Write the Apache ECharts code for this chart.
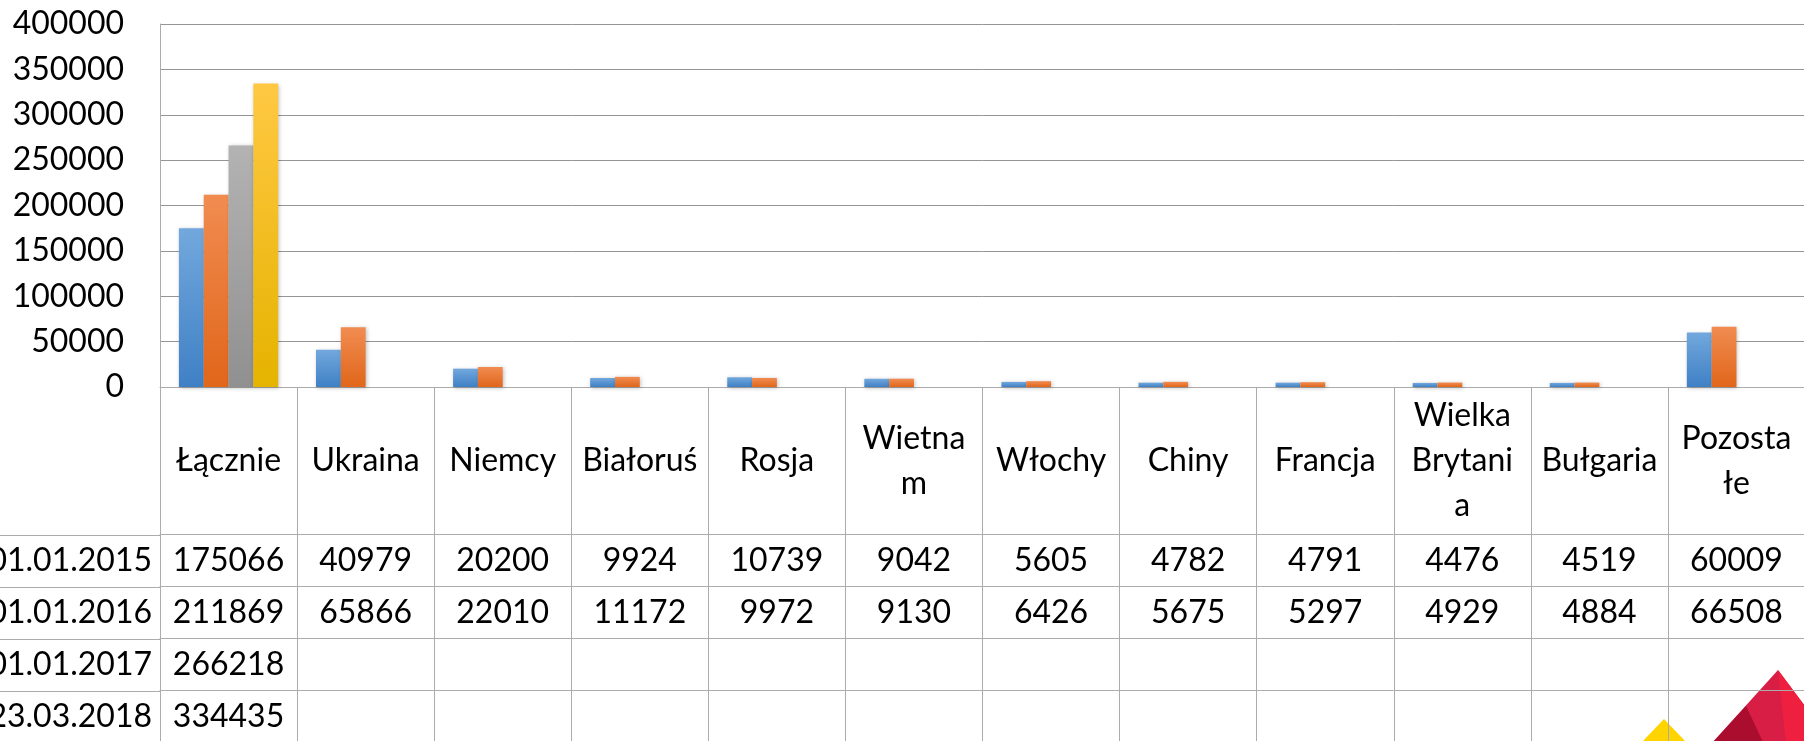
<!DOCTYPE html>
<html>
<head>
<meta charset="utf-8">
<script src="https://cdn.jsdelivr.net/npm/echarts@6/dist/echarts.min.js"></script>
<style>
html,body{margin:0;padding:0;background:#fff;}
#chart{width:1804px;height:741px;}
</style>
</head>
<body>
<div id="chart"></div>
<script>
// ---- data ----
const categories = ["Łącznie","Ukraina","Niemcy","Białoruś","Rosja","Wietnam","Włochy","Chiny","Francja","Wielka Brytania","Bułgaria","Pozostałe"];
const seriesNames = ["01.01.2015","01.01.2016","01.01.2017","23.03.2018"];
const v2015 = [175066,40979,20200,9924,10739,9042,5605,4782,4791,4476,4519,60009];
const v2016 = [211869,65866,22010,11172,9972,9130,6426,5675,5297,4929,4884,66508];
const v2017 = [266218,null,null,null,null,null,null,null,null,null,null,null];
const v2018 = [334435,null,null,null,null,null,null,null,null,null,null,null];
const yTicks = {min:0, max:400000, interval:50000};
// header text as wrapped in the picture
const headerWrap = {"Wietnam":"Wietna\nm","Wielka Brytania":"Wielka\nBrytani\na","Pozostałe":"Pozosta\nłe"};

// ---- styling / layout ----
const FONT = 'Lato';
const FS = 32;
const LINE = '#ababab';
const GRID = '#959595';
const GRID_LEFT = 160;
const AXIS_Y = 387;
const HEADER_H = 147.7;
const ROW_H = 52;

function grad(top, bottom){
  return {type:'linear',x:0,y:0,x2:0,y2:1,colorStops:[{offset:0,color:top},{offset:1,color:bottom}]};
}
const colors = [grad('#72a8dd','#3f80c5'), grad('#f18c51','#e0661a'), grad('#b3b3b3','#909090'), grad('#ffc843','#e5b300')];
const allValues = [v2015, v2016, v2017, v2018];

const textBase = {fontFamily:FONT, fontSize:FS, color:'#000'};

const xAxes = [{
  type:'category', data:categories, gridIndex:0, position:'bottom',
  axisLine:{show:true, lineStyle:{color:LINE, width:1}},
  axisTick:{show:true, interval:0, length:HEADER_H, lineStyle:{color:LINE, width:1}},
  axisLabel:Object.assign({interval:0, margin:HEADER_H/2, verticalAlign:'middle', lineHeight:45,
    formatter:(v)=> headerWrap[v] || v}, textBase)
}];
allValues.forEach((arr, k)=>{
  xAxes.push({
    type:'category', data:categories, gridIndex:0, position:'bottom',
    offset: HEADER_H + ROW_H*k,
    axisLine:{show:true, lineStyle:{color:LINE, width:1}},
    axisTick:{show:true, interval:0, length: k===3 ? 70 : ROW_H, lineStyle:{color:LINE, width:1}},
    axisLabel:Object.assign({interval:0, margin:ROW_H/2, verticalAlign:'middle',
      formatter:(v,i)=> arr[i]==null ? '' : String(arr[i])}, textBase)
  });
});

const series = allValues.map((arr,k)=>({
  name: seriesNames[k], type:'bar', xAxisIndex:0, yAxisIndex:0, data:arr,
  barGap:'0%', barCategoryGap:'27.6%',
  itemStyle:{color:colors[k], shadowBlur:4, shadowColor:'rgba(0,0,0,0.25)', shadowOffsetX:1, shadowOffsetY:1},
  silent:true
}));

const graphics = [];
seriesNames.forEach((name,k)=>{
  const y = AXIS_Y + HEADER_H + ROW_H*k;
  graphics.push({
    type:'line', shape:{x1:0,y1:Math.round(y)+0.5,x2:GRID_LEFT,y2:Math.round(y)+0.5},
    style:{stroke:LINE, lineWidth:1}, z:1
  });
  graphics.push({
    type:'text', x:GRID_LEFT-8, y:y+ROW_H/2,
    style:{text:name, font:FS+'px '+FONT, fill:'#000', align:'right', verticalAlign:'middle'}, z:2
  });
});
// decorative logo (bottom right)
graphics.push(
  {type:'polygon', shape:{points:[[1664,719],[1642,742],[1686,742]]}, style:{fill:'#ffd400'}, z:0},
  {type:'polygon', shape:{points:[[1778,670],[1713,742],[1832,742]]}, style:{fill:'#d81e45'}, z:0},
  {type:'polygon', shape:{points:[[1746,706],[1713,742],[1763,742]]}, style:{fill:'#aa0d2e'}, z:0},
  {type:'polygon', shape:{points:[[1778,670],[1786,742],[1832,742]]}, style:{fill:'#ee1f3f'}, z:0}
);

const chart = echarts.init(document.getElementById('chart'), null, {renderer:'canvas'});
chart.setOption({
  backgroundColor:'#fff',
  animation:false,
  grid:{left:GRID_LEFT, top:24, width:1645, height:363, containLabel:false, outerBoundsMode:'none'},
  xAxis: xAxes,
  yAxis:{
    type:'value', min:yTicks.min, max:yTicks.max, interval:yTicks.interval,
    axisLine:{show:true, lineStyle:{color:LINE, width:1}},
    axisTick:{show:false},
    splitLine:{show:true, lineStyle:{color:GRID, width:1}},
    axisLabel:Object.assign({margin:36, formatter:(v)=>String(v)}, textBase)
  },
  series: series,
  graphic: graphics
});
</script>
</body>
</html>
